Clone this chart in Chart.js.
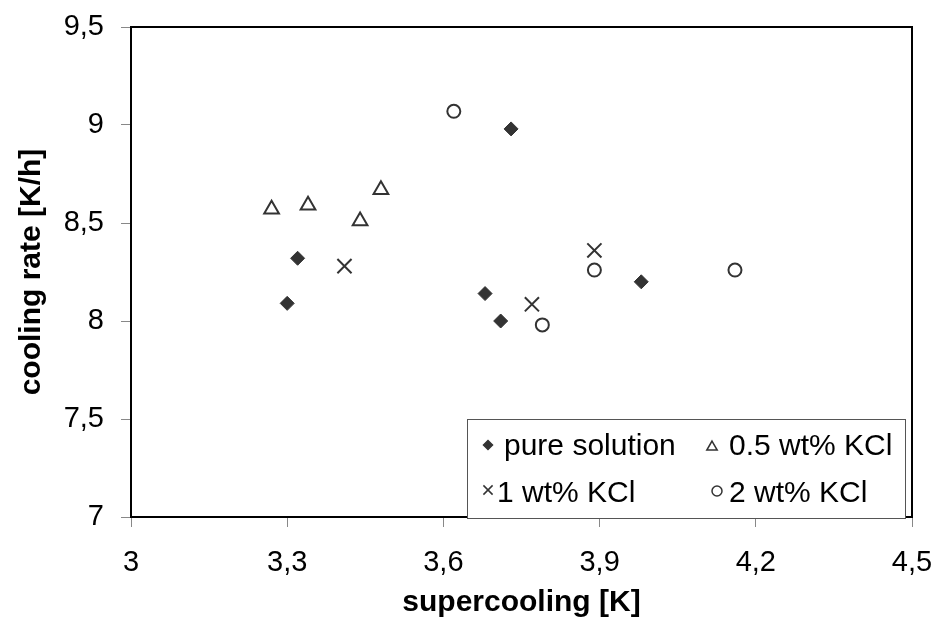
<!DOCTYPE html>
<html>
<head>
<meta charset="utf-8">
<title>cooling rate vs supercooling</title>
<script src="https://cdn.jsdelivr.net/npm/chart.js@4.4.1/dist/chart.umd.min.js"></script>
<style>
  html, body { margin: 0; padding: 0; background: #fff; }
  #chart { display: block; }
</style>
</head>
<body>
<canvas id="chart" width="936" height="621"></canvas>
<script>
// Data series (supercooling [K] / cooling rate [K/h])
const pureX = [3.30, 3.32, 3.73, 3.68, 3.71, 3.98];
const pureY = [8.09, 8.32, 8.98, 8.14, 8.00, 8.20];

const kcl05X = [3.27, 3.34, 3.44, 3.48];
const kcl05Y = [8.57, 8.59, 8.51, 8.67];

const kcl1X = [3.41, 3.77, 3.89];
const kcl1Y = [8.28, 8.085, 8.36];

const kcl2X = [3.62, 3.89, 3.79, 4.16];
const kcl2Y = [9.07, 8.26, 7.98, 8.26];

const seriesLabels = ['pure solution', '0.5 wt% KCl', '1 wt% KCl', '2 wt% KCl'];

// Tick setup
const xTicks = { min: 3, max: 4.5, step: 0.3 };
const yTicks = { min: 7, max: 9.5, step: 0.5 };

const FONT = 'Arial, "Liberation Sans", sans-serif';
const INK = '#333333';

function toPoints(xs, ys) {
    return xs.map((x, i) => ({ x: x, y: ys[i] }));
}

// Dezimalkomma fuer die Achsenbeschriftung
function commaLabel(value) {
    const v = Math.round(value * 10) / 10;
    return String(v).replace('.', ',');
}

// Draws the plot frame (top/right lines) and the legend box inside the plot area
const frameAndLegend = {
    id: 'frameAndLegend',
    afterDraw(chart) {
        const ctx = chart.ctx;
        const a = chart.chartArea;
        ctx.save();

        ctx.strokeStyle = '#000';
        ctx.lineWidth = 2;
        ctx.beginPath();
        ctx.moveTo(a.left, a.top);
        ctx.lineTo(a.right, a.top);
        ctx.lineTo(a.right, a.bottom);
        ctx.stroke();

        // legend box
        const bx = 467, by = 419, bw = 438, bh = 99;
        ctx.fillStyle = '#fff';
        ctx.fillRect(bx, by, bw, bh);
        ctx.strokeStyle = '#555';
        ctx.lineWidth = 1;
        ctx.strokeRect(bx + 0.5, by + 0.5, bw, bh);

        const items = [
            { ds: 0, mx: 488, my: 445, tx: 504, ty: 455, r: 4.5 },
            { ds: 1, mx: 712, my: 447, tx: 729, ty: 455, r: 6 },
            { ds: 2, mx: 488, my: 490, tx: 497, ty: 502, r: 6.5 },
            { ds: 3, mx: 717, my: 491, tx: 729, ty: 502, r: 5 }
        ];
        items.forEach(it => {
            const ds = chart.data.datasets[it.ds];
            ctx.fillStyle = ds.backgroundColor;
            ctx.strokeStyle = ds.borderColor;
            ctx.lineWidth = 1.5;
            Chart.helpers.drawPoint(ctx, {
                pointStyle: ds.pointStyle,
                radius: it.r,
                rotation: 0,
                borderWidth: 1.5
            }, it.mx, it.my);
            ctx.fillStyle = '#000';
            ctx.font = '30px ' + FONT;
            ctx.textBaseline = 'alphabetic';
            ctx.textAlign = 'left';
            ctx.fillText(ds.label, it.tx, it.ty);
        });

        ctx.restore();
    }
};

document.addEventListener('DOMContentLoaded', () => {
    const ctx = document.getElementById('chart').getContext('2d');

    new Chart(ctx, {
        type: 'scatter',
        data: {
            datasets: [
                {
                    label: seriesLabels[0], data: toPoints(pureX, pureY),
                    pointStyle: 'rectRot', pointRadius: 7, borderWidth: 1,
                    backgroundColor: INK, borderColor: INK
                },
                {
                    label: seriesLabels[1], data: toPoints(kcl05X, kcl05Y),
                    pointStyle: 'triangle', pointRadius: 8.5, borderWidth: 2,
                    backgroundColor: '#fff', borderColor: INK
                },
                {
                    label: seriesLabels[2], data: toPoints(kcl1X, kcl1Y),
                    pointStyle: 'crossRot', pointRadius: 10, borderWidth: 2,
                    backgroundColor: INK, borderColor: INK
                },
                {
                    label: seriesLabels[3], data: toPoints(kcl2X, kcl2Y),
                    pointStyle: 'circle', pointRadius: 6.5, borderWidth: 2,
                    backgroundColor: '#fff', borderColor: INK
                }
            ]
        },
        options: {
            responsive: false,
            animation: false,
            layout: { padding: { left: 0, right: 24, top: 27, bottom: 0 } },
            plugins: {
                legend: { display: false },
                tooltip: { enabled: false }
            },
            scales: {
                x: {
                    type: 'linear',
                    min: xTicks.min,
                    max: xTicks.max,
                    afterFit: s => {
                        s.height = 104;
                        s.paddingLeft = 0;
                        s.paddingRight = 0;
                    },
                    ticks: {
                        stepSize: xTicks.step,
                        padding: 19,
                        color: '#000',
                        font: { family: FONT, size: 29 },
                        callback: commaLabel
                    },
                    grid: { drawOnChartArea: false, drawTicks: true, tickLength: 10, color: '#888' },
                    border: { display: true, color: '#000', width: 2 },
                    title: {
                        display: true,
                        text: 'supercooling [K]',
                        color: '#000',
                        font: { family: FONT, size: 30, weight: 'bold' },
                        padding: { top: 0, bottom: 0 }
                    }
                },
                y: {
                    type: 'linear',
                    min: yTicks.min,
                    max: yTicks.max,
                    afterFit: s => {
                        s.width = 131;
                        s.paddingTop = 0;
                        s.paddingBottom = 0;
                    },
                    ticks: {
                        stepSize: yTicks.step,
                        padding: 17,
                        color: '#000',
                        font: { family: FONT, size: 29 },
                        callback: commaLabel
                    },
                    grid: { drawOnChartArea: false, drawTicks: true, tickLength: 10, color: '#888' },
                    border: { display: true, color: '#000', width: 2 },
                    title: {
                        display: true,
                        text: 'cooling rate [K/h]',
                        color: '#000',
                        font: { family: FONT, size: 30, weight: 'bold' },
                        padding: { top: 14, bottom: 0 }
                    }
                }
            }
        },
        plugins: [frameAndLegend]
    });
});
</script>
</body>
</html>
